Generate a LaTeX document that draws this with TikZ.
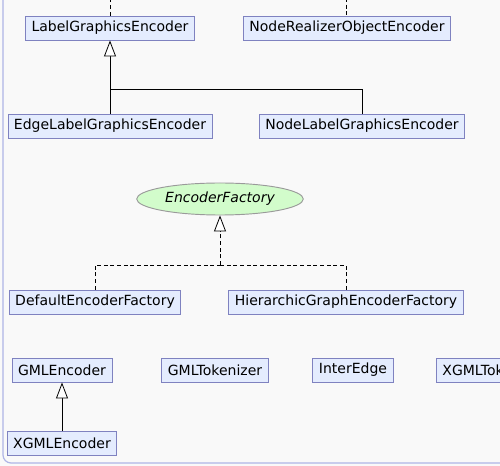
\documentclass[tikz,border=0pt]{standalone}
\usepackage{fontspec}
\setmainfont{DejaVu Sans}
\usetikzlibrary{positioning, arrows.meta, shapes.geometric}

\definecolor{canvas}{HTML}{F9F9F9}
\definecolor{frameblue}{HTML}{AFB4E6}
\definecolor{classfill}{HTML}{E4ECFE}
\definecolor{classline}{HTML}{7F82C0}
\definecolor{ifacefill}{HTML}{D2FCCB}
\definecolor{ifaceline}{HTML}{9A9A9A}

\tikzset{
  umlclass/.style={rectangle, draw=classline, fill=classfill, line width=0.7pt,
    minimum height=18pt, inner xsep=4.5pt, inner ysep=0pt},
  umliface/.style={ellipse, draw=ifaceline, fill=ifacefill, line width=0.7pt,
    minimum width=125pt, minimum height=24pt, inner sep=0pt, font=\fontsize{10.5}{12}\selectfont\itshape},
  inherit/.style={draw=black, line width=0.6pt, -{Triangle[open, length=12pt, width=9pt, fill=white]}},
  realize/.style={inherit, dash pattern=on 3pt off 2pt},
  plainline/.style={draw=black, line width=0.6pt},
  dashline/.style={plainline, dash pattern=on 3pt off 2pt}
}

\begin{document}
\begin{tikzpicture}[x=0.75pt, y=-0.75pt, font=\fontsize{10.5}{12}\selectfont]

    % --- CANVAS ---
    \fill[canvas] (0,0) rectangle (500,466);
    \useasboundingbox (0,0) rectangle (500,466);
    \clip (0,0) rectangle (500,466);
    \draw[frameblue, line width=0.9pt, rounded corners=6pt] (3,-10) -- (3,463) -- (520,463);

    % --- LABEL ENCODERS ---
    \node[umlclass] (lge) at (110,28) {LabelGraphicsEncoder};
    \node[umlclass] (nroe) at (347,28) {NodeRealizerObjectEncoder};
    \node[umlclass] (elge) at (110,126) {EdgeLabelGraphicsEncoder};
    \node[umlclass] (nlge) at (362,126) {NodeLabelGraphicsEncoder};

    % --- FACTORIES ---
    \node[umliface] (ef) at (220,199) {EncoderFactory};
    \node[umlclass] (def) at (95,302) {DefaultEncoderFactory};
    \node[umlclass] (hgef) at (346,302) {HierarchicGraphEncoderFactory};

    % --- GML ---
    \node[umlclass] (gmle) at (62,370) {GMLEncoder};
    \node[umlclass] (gmlt) at (215,370) {GMLTokenizer};
    \node[umlclass] (ie) at (353,370) {InterEdge};
    \node[umlclass, anchor=west] (xgmlt) at (436,370) {XGMLTokenizer};
    \node[umlclass] (xgmle) at (62,443) {XGMLEncoder};

    % --- HELPER POINTS ---
    \coordinate (lgeUp) at (110,-2);
    \coordinate (nroeUp) at (346,-2);
    \coordinate (jLabel) at (110,89);
    \coordinate (jFactory) at (220,265);

    % --- CONNECTORS ---
    \draw[dashline] (lge.north) -- (lgeUp);
    \draw[dashline] (nroeUp) -- (nroeUp |- nroe.north);

    \draw[inherit] (elge.north) -- (lge.south);
    \draw[plainline] (nlge.north) |- (jLabel);

    \draw[dashline] (def.north) |- (jFactory);
    \draw[dashline] (hgef.north) |- (jFactory);
    \draw[realize] (jFactory) -- (ef.south);

    \draw[inherit] (xgmle.north) -- (gmle.south);

\end{tikzpicture}
\end{document}
